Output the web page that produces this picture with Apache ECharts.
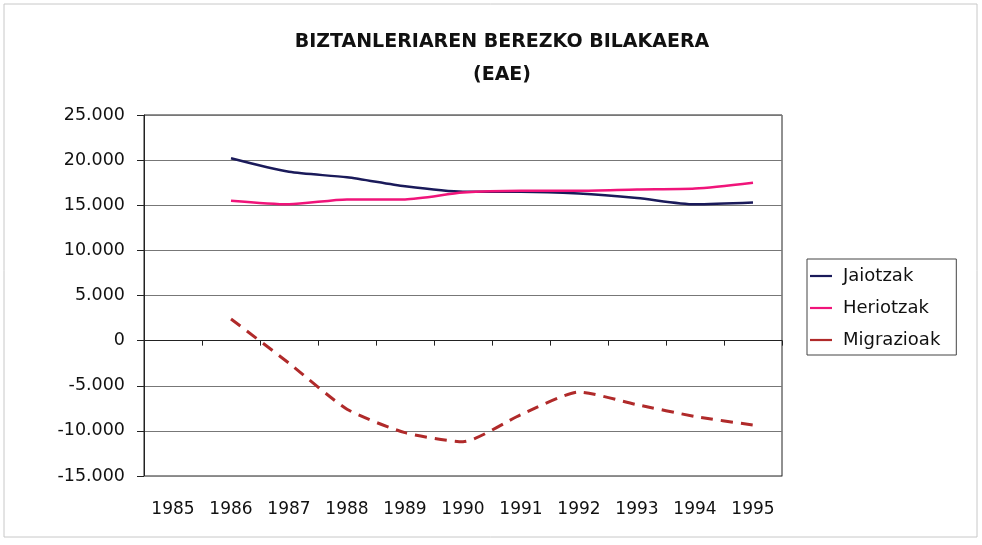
<!DOCTYPE html>
<html><head><meta charset="utf-8">
<script src="https://cdn.jsdelivr.net/npm/echarts@6/dist/echarts.min.js"></script>
<style>html,body{margin:0;padding:0;background:#fff}#c{width:982px;height:545px}</style>
</head><body><div id="c"></div>
<script>
const years = ['1985','1986','1987','1988','1989','1990','1991','1992','1993','1994','1995'];
const jaiotzak = [null, 20200, 18700, 18100, 17100, 16500, 16500, 16300, 15800, 15100, 15300];
const heriotzak = [null, 15500, 15100, 15650, 15650, 16400, 16600, 16600, 16750, 16850, 17500];
const migrazioak = [null, 2400, -2500, -7600, -10200, -11200, -8200, -5700, -7100, -8400, -9350];
const titleLines = ['BIZTANLERIAREN BEREZKO BILAKAERA', '(EAE)'];

function fmt(v){
  const s = Math.abs(v).toString().replace(/\B(?=(\d{3})+(?!\d))/g, '.');
  return (v < 0 ? '-' : '') + s;
}
const font = 'DejaVu Sans, sans-serif';
const chart = echarts.init(document.getElementById('c'));
chart.setOption({
  animation: false,
  backgroundColor: '#fff',
  title: {
    text: titleLines.join('\n'),
    left: 497, top: 21, textAlign: 'center',
    textStyle: {fontFamily: font, fontSize: 19, fontWeight: 'bold', color: '#111', lineHeight: 33}
  },
  graphic: [{type: 'rect', shape: {x: 4, y: 4, width: 973, height: 533}, style: {fill: 'none', stroke: '#c8c8c8', lineWidth: 1}, silent: true}],
  legend: {
    orient: 'vertical', left: 807, top: 259,
    padding: [6, 16, 4, 3], itemGap: 10,
    borderColor: '#444', borderWidth: 1, borderRadius: 0,
    itemWidth: 22, itemHeight: 10,
    textStyle: {fontFamily: font, fontSize: 18, color: '#111', padding: [0, 0, 0, 6], lineHeight: 22},
    data: [{name: 'Jaiotzak', icon: 'path://M0,4 L20,4 L20,6 L0,6 Z'},
           {name: 'Heriotzak', icon: 'path://M0,4 L20,4 L20,6 L0,6 Z'},
           {name: 'Migrazioak', icon: 'path://M0,4 L20,4 L20,6 L0,6 Z'}]
  },
  grid: {left: 144, top: 115, right: 200, bottom: 69, show: true, borderColor: '#222', borderWidth: 1},
  xAxis: [{
    type: 'category', data: years, boundaryGap: true, position: 'bottom',
    axisLine: {show: true, onZero: false, lineStyle: {color: '#888'}},
    axisTick: {show: false},
    axisLabel: {fontFamily: font, fontSize: 17, color: '#111', margin: 25, interval: 0}
  }, {
    type: 'category', data: years, boundaryGap: true, position: 'bottom',
    axisLine: {show: true, onZero: true, onZeroAxisIndex: 0, lineStyle: {color: '#222'}},
    axisTick: {show: true, length: 5, inside: false, interval: 0, lineStyle: {color: '#222'}},
    axisLabel: {show: false}
  }],
  yAxis: {
    type: 'value', min: -15000, max: 25000, interval: 5000,
    axisLine: {show: true, lineStyle: {color: '#222'}},
    axisTick: {show: true, length: 7, lineStyle: {color: '#222'}},
    axisLabel: {fontFamily: font, fontSize: 17.5, color: '#111', margin: 19, formatter: fmt},
    splitLine: {show: true, lineStyle: {color: '#777', width: 1}}
  },
  series: [
    {name: 'Jaiotzak', type: 'line', data: jaiotzak, smooth: 0.25, showSymbol: false, xAxisIndex: 0,
     lineStyle: {color: '#1a1a5a', width: 2.5}, itemStyle: {color: '#1a1a5a'}},
    {name: 'Heriotzak', type: 'line', data: heriotzak, smooth: 0.25, showSymbol: false, xAxisIndex: 0,
     lineStyle: {color: '#f0147a', width: 2.5}, itemStyle: {color: '#f0147a'}},
    {name: 'Migrazioak', type: 'line', data: migrazioak, smooth: 0.2, showSymbol: false, xAxisIndex: 0,
     lineStyle: {color: '#b02a2a', width: 3, type: [12, 8]}, itemStyle: {color: '#b02a2a'}}
  ]
});
</script></body></html>
